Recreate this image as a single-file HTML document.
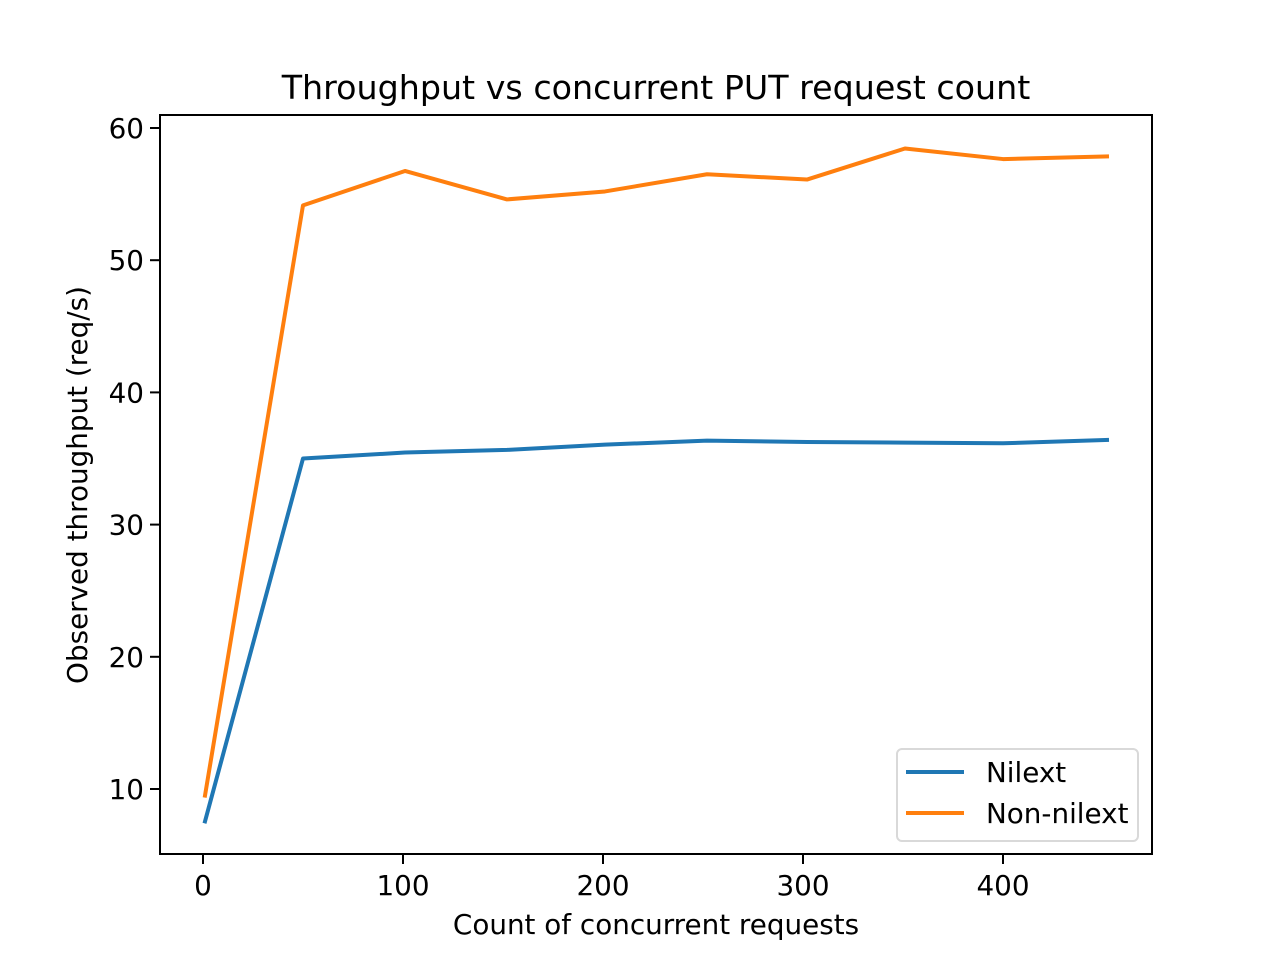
<!DOCTYPE html>
<html><head><meta charset="utf-8"><style>body{margin:0;background:#fff}svg{display:block}text{font-family:"DejaVu Sans","Liberation Sans",sans-serif;fill:#000}</style></head>
<body>
<svg id="chart" width="1280" height="960" xmlns="http://www.w3.org/2000/svg">
<rect width="1280" height="960" fill="#fff"/>
<g id="g"></g>
</svg>
<script>
const xValues = [1, 50, 101, 152, 201, 252, 302, 351, 400, 452];
const nilext = [7.55, 35.0, 35.45, 35.65, 36.05, 36.35, 36.25, 36.2, 36.15, 36.4];
const nonNilext = [9.5, 54.15, 56.75, 54.6, 55.2, 56.5, 56.1, 58.45, 57.65, 57.85];
const xTicks = [0, 100, 200, 300, 400];
const yTicks = [10, 20, 30, 40, 50, 60];
const seriesNames = ["Nilext", "Non-nilext"];

const L=160,R=1152,T=115,B=854;
const xs=v=>203+(v-0)*2.0;
const ys=v=>789-(v-10)*13.22;
const NS="http://www.w3.org/2000/svg";
const g=document.getElementById('g');
function mk(t,a,txt){const e=document.createElementNS(NS,t);for(const k in a)e.setAttribute(k,a[k]);if(txt!==undefined)e.textContent=txt;g.appendChild(e);return e;}

xTicks.forEach(v=>{
  const l=mk('line',{x1:xs(v),x2:xs(v),y1:B,y2:B+10,stroke:'#000','stroke-width':2});
  
  
  const t=mk('text',{x:xs(v),y:B+41,'font-size':27.8,'text-anchor':'middle'},String(v));
  
  
});
yTicks.forEach(v=>{
  const l=mk('line',{x1:L-10,x2:L,y1:ys(v),y2:ys(v),stroke:'#000','stroke-width':2});
  
  
  const t=mk('text',{x:L-16,y:ys(v)+10,'font-size':27.8,'text-anchor':'end'},String(v));
  
  
});
const colors=['#1f77b4','#ff7f0e'];
[nilext,nonNilext].forEach((s,i)=>{
  const p=mk('polyline',{points:s.map((v,j)=>xs(xValues[j])+','+ys(v)).join(' '),fill:'none',stroke:colors[i],'stroke-width':4,'stroke-linejoin':'round','stroke-linecap':'square'});
  
  
});
const fr=mk('rect',{x:L,y:T,width:R-L,height:B-T,fill:'none',stroke:'#000','stroke-width':2});


const ti=mk('text',{x:656,y:99,'font-size':33.3,'text-anchor':'middle'},'Throughput vs concurrent PUT request count');


const xt=mk('text',{x:656,y:934,'font-size':27.8,'text-anchor':'middle'},'Count of concurrent requests');


const yt=mk('text',{x:0,y:0,'font-size':27.8,'text-anchor':'middle',transform:'translate(87,485) rotate(-90)'},'Observed throughput (req/s)');


const lb=mk('rect',{x:897,y:749,width:241,height:92,rx:5,fill:'#fff','fill-opacity':0.8,stroke:'#d9d9d9','stroke-width':2});


seriesNames.forEach((n,i)=>{
  const y=772+i*41;
  const l=mk('line',{x1:906,x2:964,y1:y,y2:y,stroke:colors[i],'stroke-width':4});
  
  
  const t=mk('text',{x:986,y:y+10,'font-size':27.8},n);
  
  
});
</script>
</body></html>
